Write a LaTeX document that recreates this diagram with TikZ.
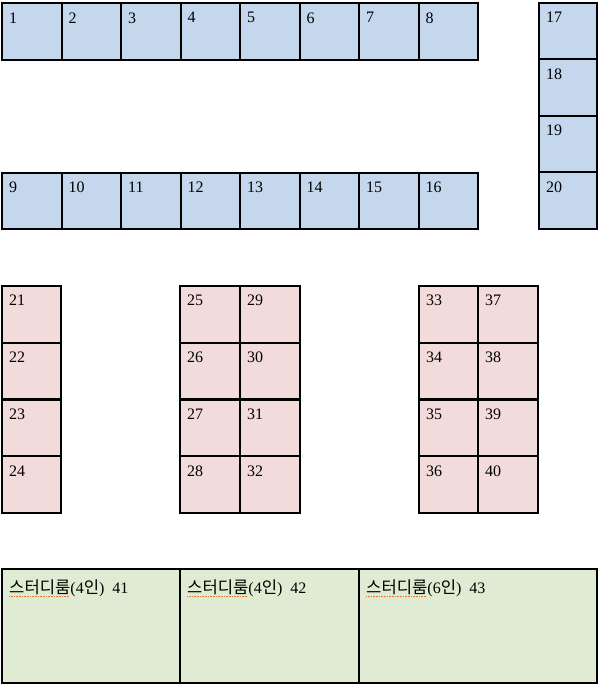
\documentclass[tikz,border=0pt]{standalone}
\usepackage{fontspec}
\setmainfont{Liberation Serif}
\newfontfamily\kr[Scale=1.04]{Noto Sans CJK KR}
\usepackage{xcolor}
\usepackage{tikz}

\definecolor{seatblue}{HTML}{C5D7EC}
\definecolor{seatpink}{HTML}{F2DBDB}
\definecolor{roomgreen}{HTML}{DFECD3}
\definecolor{spellred}{HTML}{E07A30}

\newcommand\spellmark[1]{\setbox0\hbox{#1}\rlap{\textcolor{spellred}{\leaders\hbox{\rule[-3.5pt]{1pt}{1pt}\kern0.6pt}\hskip\wd0}}\box0}

\tikzset{
  cell/.style={draw=black, line width=2pt, inner sep=0pt},
  num/.style={anchor=north west, inner sep=0pt, font=\fontsize{16}{19}\selectfont, xshift=8pt, yshift=-10pt},
  blueseat/.style={cell, fill=seatblue, minimum width=59.5pt, minimum height=56.5pt, label={[num]north west:#1}},
  pinkseat/.style={cell, fill=seatpink, minimum width=59.5pt, minimum height=56.75pt, label={[num]north west:#1}},
  room/.style={cell, fill=roomgreen, minimum height=114pt, label={[num, yshift=-2pt]north west:#1}}
}

\begin{document}
\begin{tikzpicture}[x=1pt,y=-1pt]
\useasboundingbox (0,0) rectangle (598,684);
\node[blueseat=1] (s1) at (31.75,31.5) {};
\node[blueseat=2] (s2) at (91.25,31.5) {};
\node[blueseat=3] (s3) at (150.75,31.5) {};
\node[blueseat=4] (s4) at (210.25,31.5) {};
\node[blueseat=5] (s5) at (269.75,31.5) {};
\node[blueseat=6] (s6) at (329.25,31.5) {};
\node[blueseat=7] (s7) at (388.75,31.5) {};
\node[blueseat=8] (s8) at (448.25,31.5) {};
\node[blueseat=9] (s9) at (31.75,201) {};
\node[blueseat=10] (s10) at (91.25,201) {};
\node[blueseat=11] (s11) at (150.75,201) {};
\node[blueseat=12] (s12) at (210.25,201) {};
\node[blueseat=13] (s13) at (269.75,201) {};
\node[blueseat=14] (s14) at (329.25,201) {};
\node[blueseat=15] (s15) at (388.75,201) {};
\node[blueseat=16] (s16) at (448.25,201) {};
\node[blueseat=17, minimum width=58pt] (s17) at (568,31.25) {};
\node[blueseat=18, minimum width=58pt] (s18) at (568,87.75) {};
\node[blueseat=19, minimum width=58pt] (s19) at (568,144.25) {};
\node[blueseat=20, minimum width=58pt] (s20) at (568,200.75) {};
\node[pinkseat=21, minimum width=59pt] (s21) at (31.5,314.4) {};
\node[pinkseat=22, minimum width=59pt] (s22) at (31.5,371.1) {};
\node[pinkseat=23, minimum width=59pt] (s23) at (31.5,427.9) {};
\node[pinkseat=24, minimum width=59pt] (s24) at (31.5,484.6) {};
\node[pinkseat=25, minimum width=60pt] (s25) at (210,314.4) {};
\node[pinkseat=26, minimum width=60pt] (s26) at (210,371.1) {};
\node[pinkseat=27, minimum width=60pt] (s27) at (210,427.9) {};
\node[pinkseat=28, minimum width=60pt] (s28) at (210,484.6) {};
\node[pinkseat=29, minimum width=60pt] (s29) at (270,314.4) {};
\node[pinkseat=30, minimum width=60pt] (s30) at (270,371.1) {};
\node[pinkseat=31, minimum width=60pt] (s31) at (270,427.9) {};
\node[pinkseat=32, minimum width=60pt] (s32) at (270,484.6) {};
\node[pinkseat=33, minimum width=59pt] (s33) at (448.5,314.4) {};
\node[pinkseat=34, minimum width=59pt] (s34) at (448.5,371.1) {};
\node[pinkseat=35, minimum width=59pt] (s35) at (448.5,427.9) {};
\node[pinkseat=36, minimum width=59pt] (s36) at (448.5,484.6) {};
\node[pinkseat=37, minimum width=60pt] (s37) at (508,314.4) {};
\node[pinkseat=38, minimum width=60pt] (s38) at (508,371.1) {};
\node[pinkseat=39, minimum width=60pt] (s39) at (508,427.9) {};
\node[pinkseat=40, minimum width=60pt] (s40) at (508,484.6) {};
\node[room={\spellmark{\kr 스터디룸}(4{\kr 인})~~41}, minimum width=178pt] (r41) at (91,626) {};
\node[room={\spellmark{\kr 스터디룸}(4{\kr 인})~~42}, minimum width=179pt] (r42) at (269.5,626) {};
\node[room={\spellmark{\kr 스터디룸}(6{\kr 인})~~43}, minimum width=238pt] (r43) at (478,626) {};
\end{tikzpicture}
\end{document}
